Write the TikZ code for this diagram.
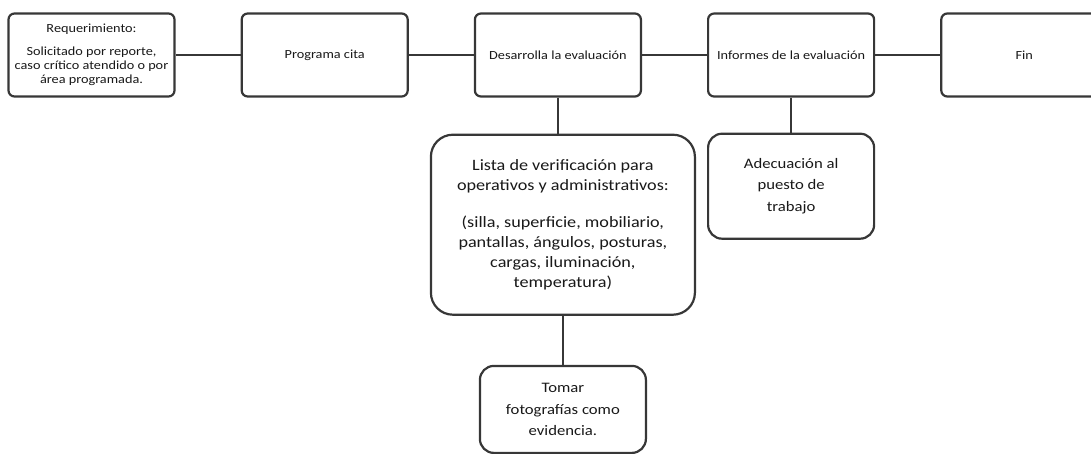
\documentclass[tikz,border=0pt]{standalone}
\usepackage{fontspec}
\setmainfont[FakeStretch=1.15]{Carlito}
\definecolor{lineagray}{RGB}{55,55,55}
\usetikzlibrary{positioning}

\begin{document}
\begin{tikzpicture}[
        x=1pt, y=1pt,
        node distance=65pt,
        box/.style={rectangle, draw=lineagray, line width=2.2pt, fill=white, text=black!90, align=center, rounded corners=6pt, minimum width=166pt, minimum height=83pt, font=\fontsize{12.4}{14}\selectfont},
        bigbox/.style={box, rounded corners=22pt, minimum width=264pt, minimum height=180pt, font=\fontsize{15.8}{20}\selectfont},
        smallbox/.style={box, rounded corners=14pt, font=\fontsize{14.5}{21.5}\selectfont},
        link/.style={draw=lineagray, line width=2.2pt}
    ]
        \clip (0,0) rectangle (1091,-453);
        \node[box] (req) at (91.5,-55) {Requerimiento:\\[9pt] Solicitado por reporte,\\ caso crítico atendido o por\\ área programada.};
        \node[box, right=of req] (cita) {Programa cita};
        \node[box, right=of cita] (eval) {Desarrolla la evaluación};
        \node[box, right=of eval] (inf) {Informes de la evaluación};
        \node[box, right=of inf] (fin) {Fin};
        \node[bigbox, below=36pt of eval, xshift=5pt] (lista) {Lista de verificación para\\ operativos y administrativos:\\[17pt] (silla, superficie, mobiliario,\\ pantallas, ángulos, posturas,\\ cargas, iluminación,\\ temperatura)};
        \node[smallbox, below=49pt of lista, minimum height=87pt] (foto) {Tomar\\ fotografías como\\ evidencia.};
        \node[smallbox, below=35pt of inf, minimum height=105pt] (adec) {Adecuación al\\ puesto de\\ trabajo};

        \draw[link] (req) -- (cita);
        \draw[link] (cita) -- (eval);
        \draw[link] (eval) -- (inf);
        \draw[link] (inf) -- (fin);
        \draw[link] (eval) -- (eval |- lista.north);
        \draw[link] (lista) -- (foto);
        \draw[link] (inf) -- (adec);
    \end{tikzpicture}
\end{document}
